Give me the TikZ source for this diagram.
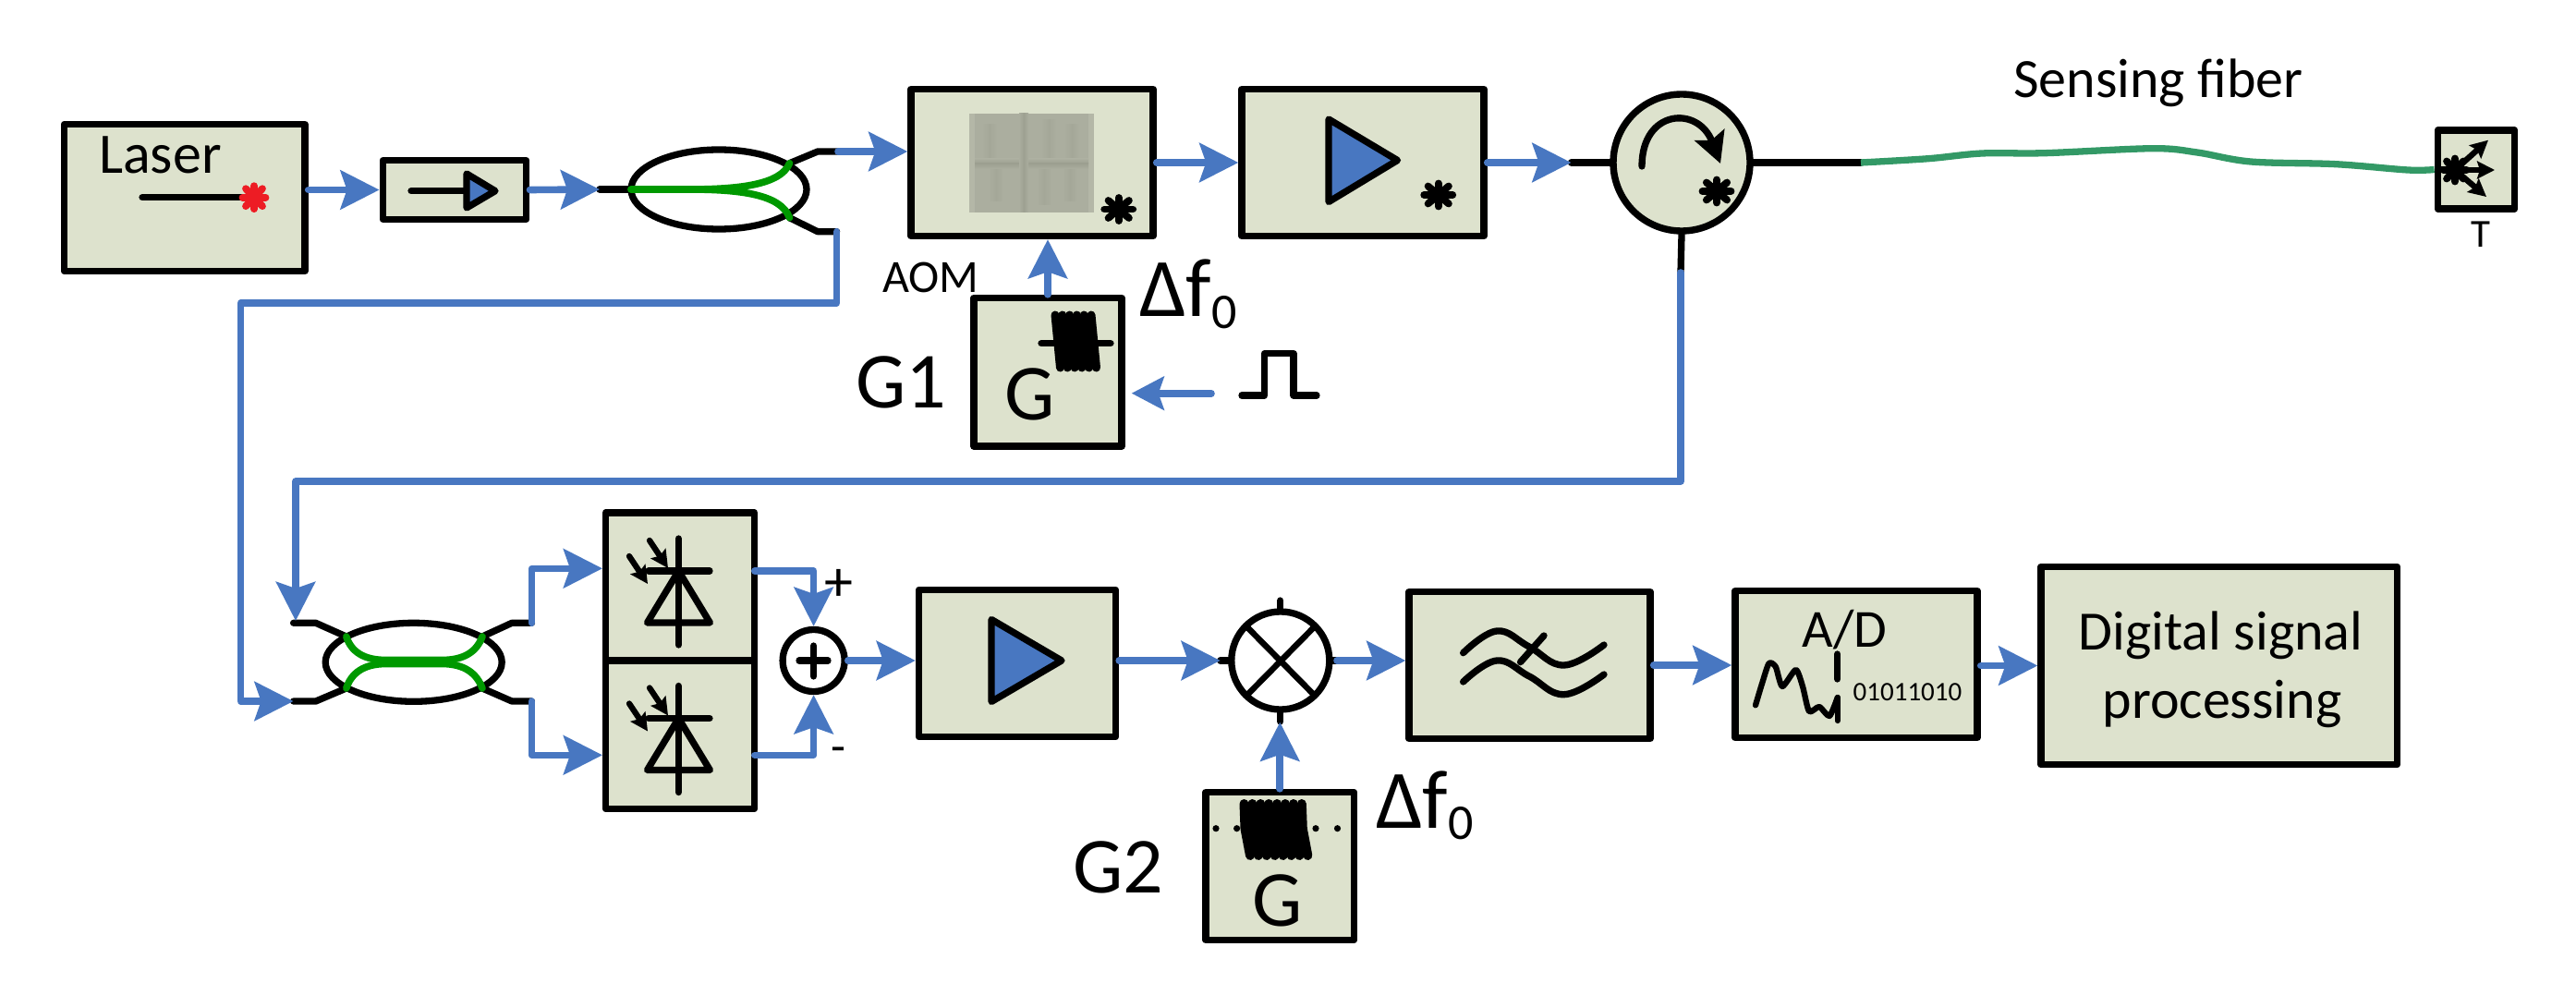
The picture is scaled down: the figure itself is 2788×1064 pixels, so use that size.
\documentclass[tikz,border=0pt]{standalone}
\usepackage{fontspec}
\setmainfont{Carlito}
\usetikzlibrary{arrows.meta,shapes.geometric,calc}
\definecolor{boxfill}{HTML}{DDE2CD}
\definecolor{sigblue}{HTML}{4877C1}
\definecolor{fibgreen}{HTML}{009900}
\definecolor{sensegreen}{HTML}{339966}
\definecolor{starred}{HTML}{ED1C24}
\definecolor{crysbase}{HTML}{ABAE9F}
\definecolor{crysdark}{HTML}{A4A798}
\definecolor{crysline}{HTML}{9DA091}
\definecolor{crysedge}{HTML}{B4B7A7}
\newcommand{\fsz}[1]{\fontsize{#1}{#1}\selectfont}
\tikzset{
  bx/.style={draw=black,fill=boxfill,line width=7.4pt,rectangle,inner sep=0pt,line join=round},
  ell/.style={draw=black,line width=7.3pt,ellipse,inner sep=0pt},
  lab/.style={inner sep=0pt,text=black},
  sig/.style={draw=sigblue,line width=7.6pt,line join=round,line cap=round,-{Stealth[length=42pt,width=42pt,inset=7pt]}},
  fib/.style={draw=black,line width=7.3pt,line join=round,line cap=round},
  grn/.style={draw=fibgreen,line width=7.6pt,line cap=round},
  blk/.style={draw=black,line width=7.3pt,line join=round,line cap=round},
  smallarr/.style={blk,line width=6.3pt,-{Stealth[length=19pt,width=19pt,inset=3pt]}},
  starpen/.style={line width=7.8pt,line cap=round},
}
\newcommand{\starat}[4]{% x,y,rx,colour
  \draw[starpen,draw=#4] (#1-#3,#2) -- (#1+#3,#2);
  \draw[starpen,draw=#4] (#1,#2-12.5) -- (#1,#2+12.5);
  \draw[starpen,draw=#4] (#1-0.72*#3,#2-9.5) -- (#1+0.72*#3,#2+9.5);
  \draw[starpen,draw=#4] (#1-0.72*#3,#2+9.5) -- (#1+0.72*#3,#2-9.5);
}
\newcommand{\pdsym}[1]{% vertical offset
  \draw[blk] (734.4,583+#1) -- (734.4,698+#1);
  \draw[blk] (700.5,674+#1) -- (734.4,618+#1) -- (768.4,674+#1) -- cycle;
  \draw[blk] (702,618+#1) -- (768,618+#1);
  \draw[smallarr] (703,585+#1) -- (723,615+#1);
  \draw[smallarr] (681,602+#1) -- (701,632+#1);
}
\newcommand{\crysband}[4]{% x, half width, y1, y2
  \shade[left color=crysbase,right color=crysdark] (#1-#2,#3) rectangle (#1,#4);
  \shade[left color=crysdark,right color=crysbase] (#1,#3) rectangle (#1+#2,#4);
}
\begin{document}
\begin{tikzpicture}[x=1pt,y=-1pt]
\useasboundingbox (0,0) rectangle (2788,1064);

% boxes
\node[bx,minimum width=260.5pt,minimum height=159pt] (laser) at (199.75,214) {};
\node[bx,minimum width=155.5pt,minimum height=63.5pt] (iso) at (492,205.5) {};
\node[bx,minimum width=262pt,minimum height=159pt] (aom) at (1117,176) {};
\node[bx,minimum width=262pt,minimum height=159pt] (amp) at (1475,176) {};
\node[bx,circle,minimum size=148pt] (circ) at (1820,176) {};
\node[bx,minimum width=160pt,minimum height=160.5pt] (gone) at (1134,402.75) {};
\node[bx,minimum width=83.5pt,minimum height=85pt] (term) at (2680,183.5) {};
\node[bx,minimum width=161pt,minimum height=160pt] (pda) at (736,635) {};
\node[bx,minimum width=161pt,minimum height=160.5pt] (pdb) at (736,795.25) {};
\node[bx,minimum width=213pt,minimum height=159.5pt] (amptwo) at (1101,718) {};
\node[bx,minimum width=160.5pt,minimum height=160pt] (gtwo) at (1385.25,937.5) {};
\node[bx,minimum width=261pt,minimum height=159pt] (filt) at (1655.5,720) {};
\node[bx,minimum width=262pt,minimum height=159pt] (adc) at (2009,719) {};
\node[bx,minimum width=385.5pt,minimum height=214.5pt] (dsp) at (2401.75,720.5) {};
\node[ell,fill=white,circle,minimum size=67pt] (sum) at (880.6,715) {};
\node[ell,fill=white,circle,minimum size=106pt] (mix) at (1385.8,715) {};
\node[ell,minimum width=190pt,minimum height=86pt] (cpa) at (778,205) {};
\node[ell,minimum width=191pt,minimum height=85pt] (cpb) at (447.7,716.8) {};

% named free ends
\coordinate (cpain) at (649,205);
\coordinate (cpaup) at (907,164);
\coordinate (cpalo) at (905.6,250.7);
\coordinate (cpaua) at (854.5,176.7);
\coordinate (cpala) at (854.5,235.7);
\coordinate (circin) at (1700.5,176);
\coordinate (circout) at (2014,176);
\coordinate (circdn) at (1819,295);
\coordinate (cbtl) at (317.6,674.3);
\coordinate (cbbl) at (317.6,759);
\coordinate (cbtr) at (575.4,674.3);
\coordinate (cbbr) at (575.4,759);
\coordinate (pdaout) at (816.8,618);
\coordinate (pdbout) at (816.8,817.3);
\coordinate (pdain) at (652,615.3);
\coordinate (pdbin) at (652,817.3);
\coordinate (mixin) at (1320.7,715);
\coordinate (mixout) at (1447,715);
\coordinate (ginp) at (1224.7,425.7);
\coordinate (gsrc) at (1311,425.7);

% black fibre stubs
\draw[fib] (cpain) -- (cpa.west);
\draw[fib] (cpaua) -- (885,164) -- (cpaup);
\draw[fib] (cpala) -- (885,250.7) -- (cpalo);
\draw[fib] (circin) -- (circ.west);
\draw[fib] (circ.east) -- (circout);
\draw[fib] (circ.south) -- (circdn);
\draw[fib] (cbtl) -- (341.8,674.3) -- (374.8,689);
\draw[fib] (cbbl) -- (341.8,759) -- (374.8,745);
\draw[fib] (522,689) -- (554,674.3) -- (cbtr);
\draw[fib] (522,745) -- (554,759) -- (cbbr);
\draw[fib] (mixin) -- (mix.west);
\draw[fib] (mix.east) -- (mixout);
\draw[fib] (mix.north) -- (1385.8,650);
\draw[fib] (mix.south) -- (1385.8,781);

% green couplers
\draw[grn] (683,205) -- (745,205) .. controls (800,205) and (845,200) .. (cpaua);
\draw[grn] (683,205) -- (745,205) .. controls (800,205) and (845,210) .. (cpala);
\draw[grn] (374.8,689) .. controls (380,705) and (393,714.5) .. (418,714.5) -- (478,714.5) .. controls (503,714.5) and (516,705) .. (522,689);
\draw[grn] (374.8,745) .. controls (380,729) and (393,718.5) .. (418,718.5) -- (478,718.5) .. controls (503,718.5) and (516,729) .. (522,745);

% sensing fibre
\draw[draw=sensegreen,line width=7.3pt] plot[smooth,tension=.55] coordinates {(circout) (2087,171.7) (2145,166) (2213,165.7) (2330,160.7) (2378,165) (2436,175) (2528,177.7) (2606,184) (term.west)};

% signal connectors
\draw[sig] (laser.east |- iso.west) -- (iso.west);
\draw[sig] (iso.east) -- (cpain);
\draw[sig] (cpaup) -- (aom.west |- cpaup);
\draw[sig] (aom.east) -- (amp.west);
\draw[sig] (amp.east) -- (circin);
\draw[sig] (gone.north) -- (aom.south -| gone.north);
\draw[sig,-{Stealth[length=35pt,width=36pt,inset=6pt]}] (gsrc) -- (ginp);
\draw[sig] (cpalo) -- (905.6,328) -- (260.5,328) -- (260.5,759) -- (cbbl);
\draw[sig] (circdn) -- (1819,521) -- (320,521) -- (320,672);
\draw[sig] (cbtr) |- (pdain);
\draw[sig] (cbbr) |- (pdbin);
\draw[sig] (pdaout) -| (sum.north);
\draw[sig] (pdbout) -| (sum.south);
\draw[sig] (sum.east) -- (sum.east -| amptwo.west);
\draw[sig] (mixin -| amptwo.east) -- (mixin);
\draw[sig] (mixout) -- (mixout -| filt.west);
\draw[sig] (gtwo.north) -- (1385.25,781.7);
\draw[sig] (filt.east) -- (filt.east -| adc.west);
\draw[sig] (adc.east |- dsp.west) -- (dsp.west);

% laser contents
\draw[blk] (154,213.7) -- (263,213.7);
\starat{275}{213.7}{12.5}{starred}
\node[lab,anchor=base west] (laserlab) at (107,188) {\fsz{62}Laser};

% isolator
\draw[blk] (445,206.7) -- (504,206.7);
\draw[blk,fill=sigblue] (505,188) -- (536,206.7) -- (505,225) -- cycle;

% AOM crystal
\fill[crysbase] (1049,123) rectangle (1184,230);
\fill[crysedge] (1049,123) rectangle (1055,230);
\fill[crysedge] (1178,123) rectangle (1184,230);
\crysband{1071}{8}{135}{172}
\crysband{1135}{8}{130}{172}
\crysband{1160}{8}{135}{172}
\crysband{1078}{8}{184}{218}
\crysband{1130}{8}{184}{222}
\crysband{1158}{8}{184}{218}
\shade[top color=crysbase,bottom color=crysline] (1055,172) rectangle (1178,177);
\shade[top color=crysline,bottom color=crysbase] (1055,177) rectangle (1178,183);
\shade[left color=crysbase,right color=crysline] (1103,123) rectangle (1108,230);
\shade[left color=crysline,right color=crysbase] (1108,123) rectangle (1113,230);
\starat{1210.7}{226.5}{15.5}{black}
\node[lab,anchor=base west] (aomlab) at (955,316.7) {\fsz{50}AOM};

% amplifier 1
\draw[blk,fill=sigblue] (1438,129) -- (1512.5,173.5) -- (1438,218.5) -- cycle;
\starat{1556.7}{211}{15.5}{black}

% circulator
\draw[blk,-{Stealth[length=33pt,width=34pt,inset=6pt]}] (1777,180) .. controls (1777,118) and (1838,114) .. (1862,177);
\starat{1858}{207}{15.5}{black}

% G1
\foreach \ii in {0,...,5}
  \draw[line width=9pt,line cap=round] (1142+\ii*7.8,341) -- (1147.5+\ii*7.8,398);
\draw[blk] (1127,371.7) -- (1202,371.7);
\node[lab,anchor=base west] (gonein) at (1087,454) {\fsz{86}G};
\node[lab,anchor=base west] (gonelab) at (926,441.7) {\fsz{86}G1};
\node[lab,anchor=base west] (dfa) at (1233,343) {\fsz{90}Δf\raisebox{-13pt}{\fsz{54}0}};
\draw[blk] (1344,428) -- (1368.6,428) -- (1368.6,382.7) -- (1400,382.7) -- (1400,428) -- (1425,428);

% sensing label and termination
\node[lab,anchor=base west] (senselab) at (2179,106) {\fsz{60}Sensing fiber};
\draw[blk,line cap=butt] (term.west) -- (2660,183.5);
\draw[smallarr,line cap=butt] (2657,184) -- (2693,151.7);
\draw[smallarr,line cap=butt] (2657,184) -- (2700,184);
\draw[smallarr,line cap=butt] (2657,184) -- (2691,213);
\starat{2657}{184}{12.5}{black}
\node[lab,anchor=base] (termlab) at (2684.5,267.7) {\fsz{43}T};

% coupler 2 and detectors
\pdsym{0}
\pdsym{159.5}
\draw[blk] (865,715) -- (896,715);
\draw[blk] (880.6,699) -- (880.6,732);
\node[lab,anchor=base] (pluslab) at (907.7,650) {\fsz{62}+};
\node[lab,anchor=base] (minuslab) at (907.5,825) {\fsz{52}-};

% amplifier 2
\draw[blk,fill=sigblue] (1073,670.5) -- (1149,715) -- (1073,759.5) -- cycle;

% mixer
\draw[blk,line width=6.5pt] (1349,678) -- (1423,753);
\draw[blk,line width=6.5pt] (1423,678) -- (1349,753);

% G2
\foreach \ii in {0,...,7}
  \draw[line width=10pt,line cap=round,line join=round] (1346.5+\ii*8.9,870) -- (1347.5+\ii*8.9,897) -- (1353+\ii*8.9,926);
\foreach \xx in {1316,1338.6,1424,1447.5}
  \fill (\xx,896.7) circle[radius=3.6pt];
\node[lab,anchor=base west] (gtwoin) at (1355,1002.7) {\fsz{86}G};
\node[lab,anchor=base west] (gtwolab) at (1161,966.7) {\fsz{86}G2};
\node[lab,anchor=base west] (dfb) at (1489,896.7) {\fsz{90}Δf\raisebox{-12pt}{\fsz{54}0}};

% filter
\draw[blk] plot[smooth,tension=.7] coordinates {(1583.6,706.7) (1620,683) (1655,700) (1692.7,720) (1736,698)};
\draw[blk] plot[smooth,tension=.7] coordinates {(1583.6,738) (1620,715) (1655,732) (1692.7,751.7) (1736,730)};
\draw[blk] (1645.5,716.7) -- (1671,688);

% A/D
\node[lab,anchor=base] (adlab) at (1996.5,700) {\fsz{58}A/D};
\draw[blk] (1988.7,708) -- (1988.7,735);
\draw[blk,line width=6.3pt] plot[smooth,tension=.4] coordinates {(1900,763.3) (1907,740) (1914.5,718) (1921.8,721.7) (1929,743) (1943.6,725) (1951,743) (1958,770) (1969,765) (1980,775) (1988.7,755)};
\draw[blk,line width=6.3pt] (1988.7,755) -- (1988.7,780);
\node[lab,anchor=base west] (bitslab) at (2005.5,758) {\fsz{29}01011010};

% DSP
\node[lab,anchor=base] (dspa) at (2403.6,703) {\fsz{60}Digital signal};
\node[lab,anchor=base] (dspb) at (2405,777) {\fsz{60}processing};
\end{tikzpicture}
\end{document}
